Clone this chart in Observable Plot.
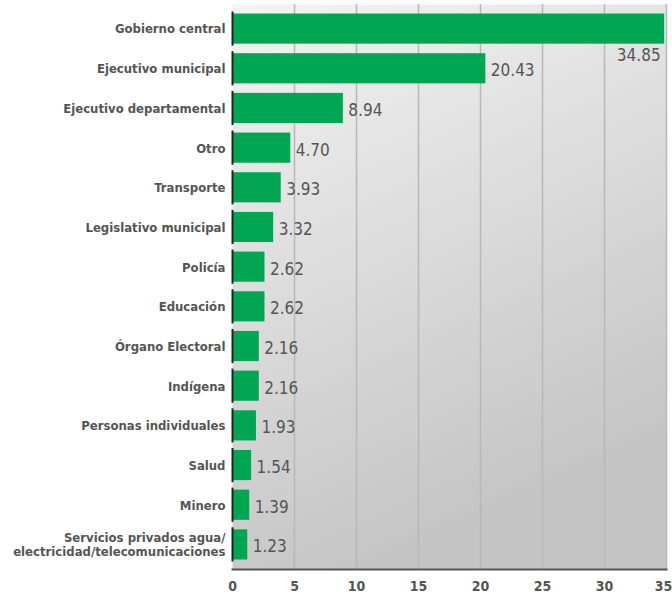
<!DOCTYPE html>
<html>
<head>
<meta charset="utf-8">
<script src="https://cdn.jsdelivr.net/npm/d3@7"></script>
<script src="https://cdn.jsdelivr.net/npm/@observablehq/plot@0.6"></script>
<style>
  html, body { margin: 0; padding: 0; background: #fff; }
  #chart svg { display: block; }
</style>
</head>
<body>
<div id="chart"></div>
<script>
const categories = [
  "Gobierno central",
  "Ejecutivo municipal",
  "Ejecutivo departamental",
  "Otro",
  "Transporte",
  "Legislativo municipal",
  "Policía",
  "Educación",
  "Órgano Electoral",
  "Indígena",
  "Personas individuales",
  "Salud",
  "Minero",
  "Servicios privados agua/\nelectricidad/telecomunicaciones"
];
const values = [34.85, 20.43, 8.94, 4.70, 3.93, 3.32, 2.62, 2.62, 2.16, 2.16, 1.93, 1.54, 1.39, 1.23];
const xTicks = [0, 5, 10, 15, 20, 25, 30, 35];

const data = categories.map((c, i) => ({category: c, value: values[i], first: i === 0}));

const chart = Plot.plot({
  width: 672,
  height: 603,
  marginTop: 4,
  marginBottom: 34,
  marginLeft: 232,
  marginRight: 6,
  style: {fontFamily: '"Liberation Sans Narrow", "DejaVu Sans Condensed", sans-serif', background: "#fff"},
  x: {domain: [0, 35], ticks: xTicks},
  y: {domain: categories, padding: 0.24, round: false},
  marks: [
    Plot.frame({fill: "url(#bggrad)", stroke: null}),
    Plot.ruleX(xTicks.slice(1), {stroke: "#b8b8b8", strokeWidth: 1.5}),
    Plot.barX(data, {x: "value", y: "category", fill: "#00a651"}),
    Plot.tickX(data, {x: 0, y: "category", stroke: "#222", strokeWidth: 2, insetTop: -2, insetBottom: -2}),
    Plot.text(data.filter(d => !d.first), {
      x: "value", y: "category", text: d => d.value.toFixed(2),
      textAnchor: "start", dx: 5, dy: 2, fontSize: 17, fill: "#555"
    }),
    Plot.text(data.filter(d => d.first), {
      x: "value", y: "category", text: d => d.value.toFixed(2),
      textAnchor: "end", dx: -4, dy: 26, fontSize: 17, fill: "#555"
    }),
    Plot.frame({anchor: "bottom", stroke: "#555", strokeWidth: 2}),
    Plot.axisY({tickSize: 0, tickPadding: 7, fontSize: 13, fontWeight: "bold", fill: "#555", label: null, lineHeight: 1.05}),
    Plot.axisX({ticks: xTicks.slice(0, -1), tickSize: 0, tickPadding: 12, fontSize: 14, fontWeight: "bold", fill: "#555", label: null}),
    Plot.axisX({ticks: xTicks.slice(-1), tickSize: 0, tickPadding: 12, fontSize: 14, fontWeight: "bold", fill: "#555", label: null, dx: -3})
  ]
});

const svg = d3.select(chart);
const defs = svg.insert("defs", ":first-child");
const g = defs.append("linearGradient").attr("id", "bggrad")
  .attr("x1", "0").attr("y1", "0").attr("x2", "0.35").attr("y2", "1");
g.append("stop").attr("offset", "0%").attr("stop-color", "#f4f4f4");
g.append("stop").attr("offset", "45%").attr("stop-color", "#dedede");
g.append("stop").attr("offset", "100%").attr("stop-color", "#c4c4c4");

document.getElementById("chart").appendChild(chart);
</script>
</body>
</html>
